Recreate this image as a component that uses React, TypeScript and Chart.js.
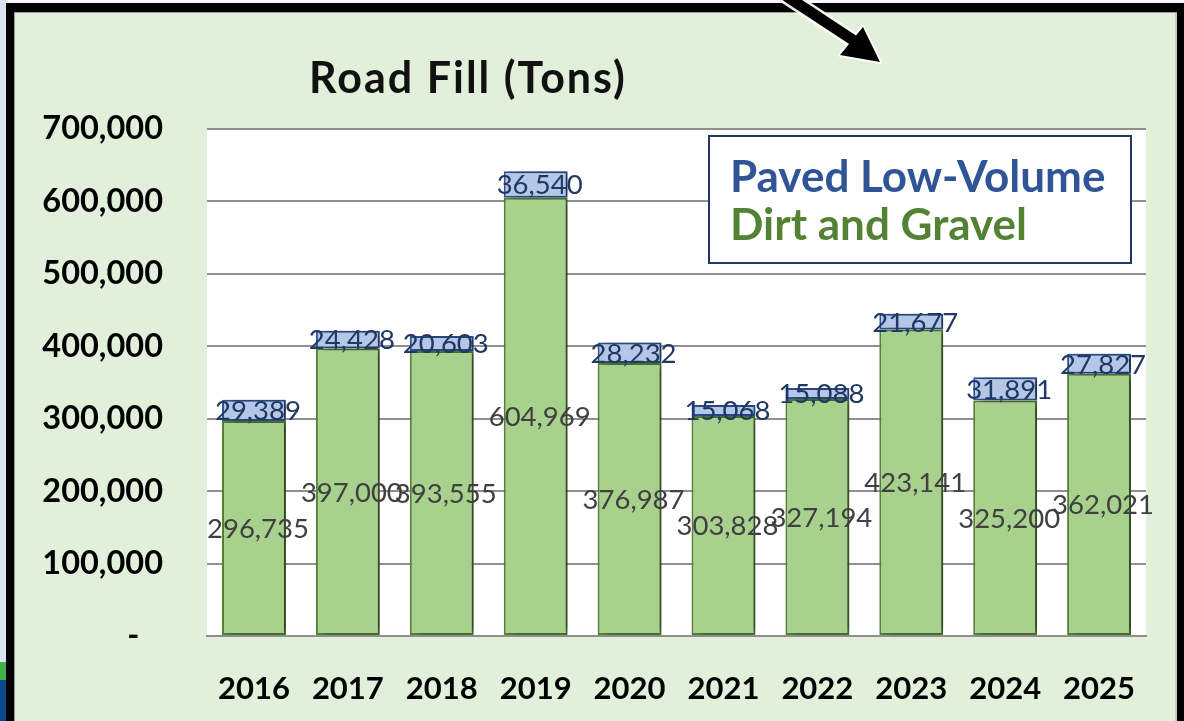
import React, { useEffect, useRef } from "react";
import { Chart, registerables } from "chart.js";

Chart.register(...registerables);

const years = ["2016", "2017", "2018", "2019", "2020", "2021", "2022", "2023", "2024", "2025"];
const dirtAndGravel = [296735, 397000, 393555, 604969, 376987, 303828, 327194, 423141, 325200, 362021];
const pavedLowVolume = [29389, 24428, 20603, 36540, 28232, 15068, 15088, 21677, 31891, 27827];
const yMax = 700000;
const yStep = 100000;

const FONT = "Lato, 'Open Sans', sans-serif";
const fmt = (v: number) => v.toLocaleString("en-US");

const plotBg = {
  id: "plotBg",
  beforeDraw(chart: any) {
    const { ctx, chartArea: a } = chart;
    ctx.save();
    ctx.fillStyle = "#ffffff";
    ctx.fillRect(a.left, a.top, a.right - a.left, a.bottom - a.top);
    ctx.restore();
  },
};

const barShadow = {
  id: "barShadow",
  beforeDatasetDraw(chart: any) {
    const ctx = chart.ctx;
    ctx.save();
    ctx.shadowColor = "rgba(0,0,0,0.45)";
    ctx.shadowOffsetX = 6;
    ctx.shadowOffsetY = 0;
    ctx.shadowBlur = 7;
  },
  afterDatasetDraw(chart: any) {
    chart.ctx.restore();
  },
};

const labelColors = ["#404040", "#203864"];

const valueLabels = {
  id: "valueLabels",
  afterDatasetsDraw(chart: any) {
    const ctx = chart.ctx;
    ctx.save();
    ctx.font = `27.5px ${FONT}`;
    ctx.textAlign = "center";
    ctx.textBaseline = "middle";
    chart.data.datasets.forEach((ds: any, i: number) => {
      const meta = chart.getDatasetMeta(i);
      ctx.fillStyle = labelColors[i];
      meta.data.forEach((bar: any, j: number) => {
        const p = bar.getProps(["x", "y", "base"], true);
        ctx.fillText(fmt(ds.data[j]), p.x + 4, (p.y + p.base) / 2 + 1);
      });
    });
    ctx.restore();
  },
};

const titleAndKey = {
  id: "titleAndKey",
  afterDraw(chart: any) {
    const { ctx, chartArea: a } = chart;
    ctx.save();
    // title
    ctx.fillStyle = "#111111";
    ctx.font = `bold 43px ${FONT}`;
    try {
      (ctx as any).letterSpacing = "2px";
    } catch (e) {}
    ctx.textAlign = "center";
    ctx.textBaseline = "middle";
    ctx.fillText("Road Fill (Tons)", 468, 79);
    try {
      (ctx as any).letterSpacing = "0px";
    } catch (e) {}
    // key box
    const bx = a.left + 502;
    const by = a.top + 7;
    const bw = 422;
    const bh = 127;
    ctx.fillStyle = "#ffffff";
    ctx.fillRect(bx, by, bw, bh);
    ctx.strokeStyle = "#203864";
    ctx.lineWidth = 2;
    ctx.strokeRect(bx, by, bw, bh);
    ctx.textAlign = "left";
    ctx.font = `bold 44px ${FONT}`;
    ctx.fillStyle = "#2f5597";
    ctx.fillText("Paved Low-Volume", bx + 21, by + 42);
    ctx.fillStyle = "#548235";
    ctx.fillText("Dirt and Gravel", bx + 21, by + 90);
    ctx.restore();
  },
};

export default function App() {
  const ref = useRef<HTMLCanvasElement>(null);

  useEffect(() => {
    if (!ref.current) return;
    const chart = new Chart(ref.current, {
      type: "bar",
      data: {
        labels: years,
        datasets: [
          {
            label: "Dirt and Gravel",
            data: dirtAndGravel,
            backgroundColor: "#a9d18e",
            borderColor: "#548235",
            borderWidth: 2,
            borderSkipped: false,
            categoryPercentage: 1,
            barPercentage: 0.68,
          },
          {
            label: "Paved Low-Volume",
            data: pavedLowVolume,
            backgroundColor: "#b4c7e7",
            borderColor: "#2f5597",
            borderWidth: 2,
            borderSkipped: false,
            categoryPercentage: 1,
            barPercentage: 0.68,
          },
        ],
      },
      options: {
        responsive: false,
        animation: false,
        devicePixelRatio: 1,
        layout: { padding: { left: 0, right: 38, top: 129, bottom: 0 } },
        plugins: {
          legend: { display: false },
          title: { display: false },
          tooltip: { enabled: false },
        },
        scales: {
          x: {
            stacked: true,
            grid: { display: false },
            border: { display: true, color: "#8f8f8f", width: 2 },
            ticks: {
              color: "#000000",
              font: { family: FONT, size: 31, weight: "bold" },
              padding: 26,
            },
            afterFit(scale: any) {
              scale.height = 85;
            },
          },
          y: {
            stacked: true,
            min: 0,
            max: yMax,
            grid: { color: "#8f8f8f", lineWidth: 2, drawTicks: false },
            border: { display: false },
            ticks: {
              stepSize: yStep,
              color: "#000000",
              font: { family: FONT, size: 32.5, weight: "bold" },
              padding: 44,
              callback: (v: any) => (Number(v) === 0 ? "-   " : fmt(Number(v))),
            },
            afterFit(scale: any) {
              scale.width = 207;
            },
          },
        },
      },
      plugins: [plotBg, barShadow, valueLabels, titleAndKey],
    });
    return () => chart.destroy();
  }, []);

  return (
    <div
      style={{
        position: "fixed",
        left: 0,
        top: 0,
        width: 1184,
        height: 721,
        background: "#f4f6fb",
        overflow: "hidden",
      }}
    >
      <div
        style={{
          position: "absolute",
          left: 0,
          top: 0,
          width: 6,
          height: 721,
          background:
            "linear-gradient(to bottom, #dbe3f3 0px, #dbe3f3 662px, #3db34a 662px, #3db34a 680px, #0b4a8a 680px, #0b4a8a 721px)",
        }}
      />
      <div
        style={{
          position: "absolute",
          left: 6,
          top: 3,
          width: 1178,
          height: 718,
          boxSizing: "border-box",
          borderLeft: "8px solid #000",
          borderTop: "9px solid #000",
          borderRight: "7px solid #000",
          background: "#e2efda",
          boxShadow: "inset 1px 1px 0 #9a9a9a, inset -2px 0 0 #c8c8c8",
        }}
      />
      <canvas
        ref={ref}
        width={1184}
        height={721}
        style={{ position: "absolute", left: 0, top: 0, width: 1184, height: 721 }}
      />
      <svg
        width={1184}
        height={721}
        style={{ position: "absolute", left: 0, top: 0, pointerEvents: "none" }}
      >
        <g stroke="#ffffff" strokeWidth={4} strokeLinejoin="round" opacity={0.9}>
          <line x1={786} y1={-4} x2={856} y2={42} strokeWidth={16} />
          <polygon points="840,55 880,62 863,27" />
        </g>
        <line x1={786} y1={-4} x2={856} y2={42} stroke="#000" strokeWidth={11} />
        <polygon points="840,55 880,62 863,27" fill="#000" />
      </svg>
    </div>
  );
}
